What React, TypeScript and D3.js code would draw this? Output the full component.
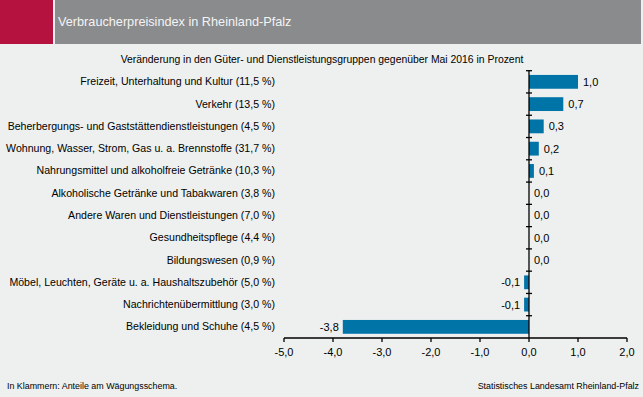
import * as d3 from 'd3';

const categories = [
  'Freizeit, Unterhaltung und Kultur (11,5 %)',
  'Verkehr (13,5 %)',
  'Beherbergungs- und Gaststättendienstleistungen (4,5 %)',
  'Wohnung, Wasser, Strom, Gas u. a. Brennstoffe (31,7 %)',
  'Nahrungsmittel und alkoholfreie Getränke (10,3 %)',
  'Alkoholische Getränke und Tabakwaren (3,8 %)',
  'Andere Waren und Dienstleistungen (7,0 %)',
  'Gesundheitspflege (4,4 %)',
  'Bildungswesen (0,9 %)',
  'Möbel, Leuchten, Geräte u. a. Haushaltszubehör (5,0 %)',
  'Nachrichtenübermittlung (3,0 %)',
  'Bekleidung und Schuhe (4,5 %)',
];
const values = [1.0, 0.7, 0.3, 0.2, 0.1, 0.0, 0.0, 0.0, 0.0, -0.1, -0.1, -3.8];
const xTicks = [-5, -4, -3, -2, -1, 0, 1, 2];

const W = 643;
const H = 397;
const font = '"Liberation Sans", Arial, sans-serif';
const fmt = (v: number) => d3.format('.1f')(v).replace('.', ',').replace('−', '-');

export default function App() {
  const x = d3.scaleLinear().domain([-5, 2]).range([284, 627]);
  const y = d3.scaleBand<string>().domain(categories).range([70.7, 338]).paddingInner(0.38).paddingOuter(0.19);
  const yb = d3.scaleBand<string>().domain(categories).range([70.7, 338]);
  const x0 = x(0);

  return (
    <svg width={W} height={H} style={{ position: 'absolute', left: 0, top: 0, background: '#eef0ef' }} fontFamily={font}>
      <rect x={0} y={0} width={W} height={H} fill="#eef0ef" />
      <rect x={0} y={0} width={53} height={44} fill="#b5123f" />
      <rect x={55} y={0} width={586} height={44} fill="#8a8b8d" />
      <text x={58} y={26} fontSize={12.7} fill="#f4f4f4">Verbraucherpreisindex in Rheinland-Pfalz</text>
      <text x={322} y={63} fontSize={10.4} textAnchor="middle" fill="#000">
        Veränderung in den Güter- und Dienstleistungsgruppen gegenüber Mai 2016 in Prozent
      </text>

      {categories.map((c, i) => {
        const v = values[i];
        const yc = yb(c)! + yb.bandwidth() / 2;
        const x1 = Math.min(x(v), x0);
        const w = Math.abs(x(v) - x0);
        return (
          <g key={c}>
            <text x={275} y={yc + 3.5} fontSize={10.6} textAnchor="end" fill="#000">{c}</text>
            {w > 0 && <rect x={x1} y={y(c)!} width={w} height={y.bandwidth()} fill="#0073a7" />}
            <text
              x={v < 0 ? x(v) - 4 : x(v) + 5}
              y={yc + 4}
              fontSize={11}
              textAnchor={v < 0 ? 'end' : 'start'}
              fill="#000"
            >
              {fmt(v)}
            </text>
          </g>
        );
      })}

      {/* vertical category axis */}
      <line x1={x0} x2={x0} y1={70.7} y2={338} stroke="#000" strokeWidth={1.3} />
      {categories.map((c) => (
        <line key={c} x1={x0 - 3} x2={x0 + 3} y1={yb(c)!} y2={yb(c)!} stroke="#000" strokeWidth={1.3} />
      ))}

      {/* bottom value axis */}
      <line x1={x(-5)} x2={x(2)} y1={338} y2={338} stroke="#000" strokeWidth={1.5} />
      {xTicks.map((t) => (
        <g key={t}>
          <line x1={x(t)} x2={x(t)} y1={338} y2={342} stroke="#000" strokeWidth={1.3} />
          <text x={x(t)} y={356} fontSize={11} textAnchor="middle" fill="#000">{fmt(t)}</text>
        </g>
      ))}

      <text x={7} y={389} fontSize={8.9} fill="#000">In Klammern: Anteile am Wägungsschema.</text>
      <text x={639} y={389} fontSize={8.9} textAnchor="end" fill="#000">Statistisches Landesamt Rheinland-Pfalz</text>
    </svg>
  );
}
